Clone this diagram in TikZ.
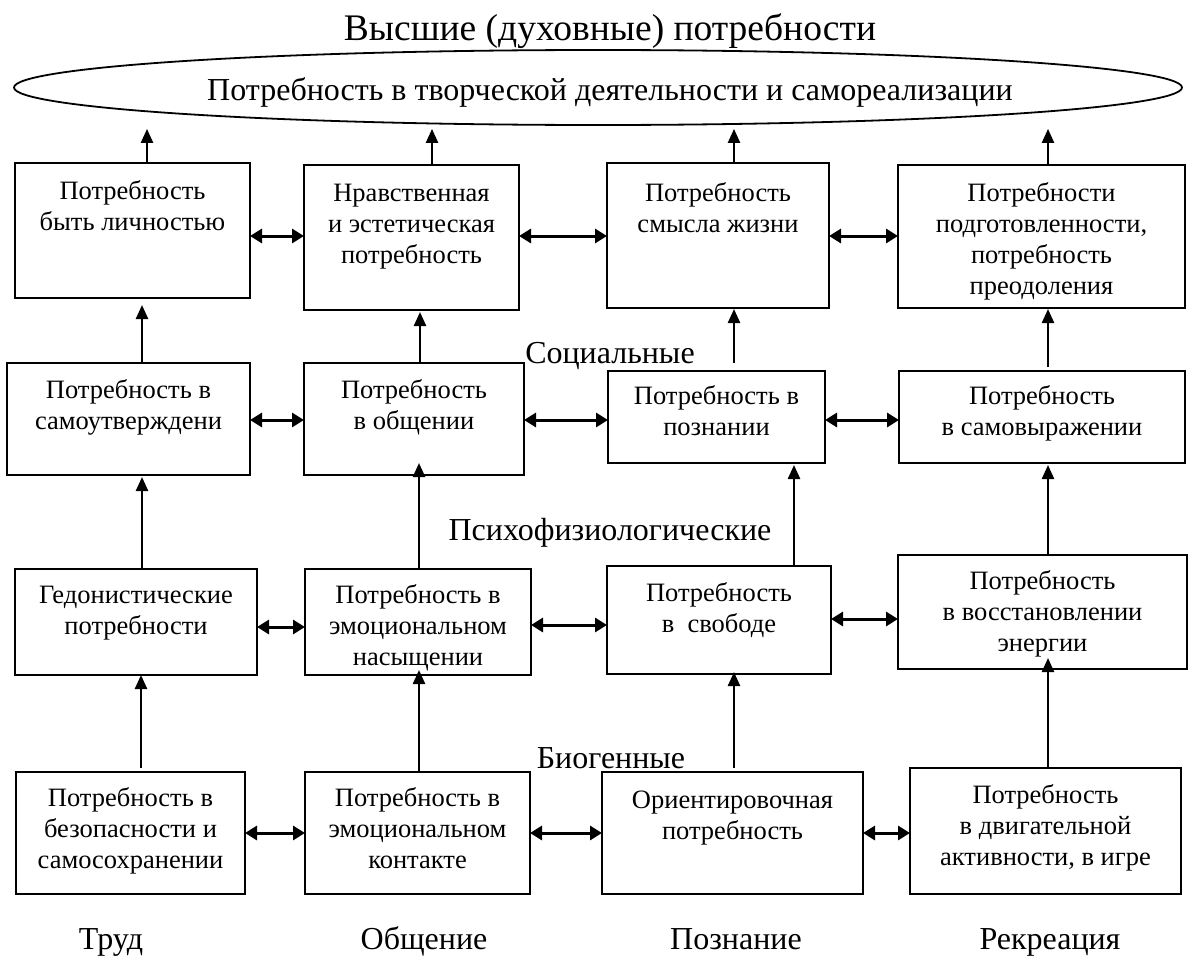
\documentclass[tikz,border=0pt]{standalone}
\usepackage{fontspec}
\setmainfont{Liberation Serif}
\usetikzlibrary{arrows.meta,shapes.geometric}
\newcommand{\bxt}[4]{\parbox[c][#2pt][t]{#1pt}{\centering\fontsize{26.5pt}{31pt}\selectfont\rule{0pt}{#3pt}#4}}
\begin{document}
\begin{tikzpicture}[x=1pt,y=-1pt,
  box/.style={draw,line width=1.3pt,inner sep=0pt,outer sep=0pt},
  varr/.style={line width=2.4pt,-{Triangle[length=14pt,width=12pt]}},
  harr/.style={line width=3pt,{Triangle[length=12pt,width=14pt]}-{Triangle[length=12pt,width=14pt]}},
  lbl/.style={inner sep=0pt,anchor=base,font=\fontsize{32pt}{38pt}\selectfont},
  ttl/.style={lbl,font=\fontsize{37.5pt}{44pt}\selectfont}]
\useasboundingbox (0,0) rectangle (1189,961);
% title and ellipse
\node[ttl] (title) at (610,40) {Высшие (духовные) потребности};
\node[draw,ellipse,line width=1.8pt,minimum width=1168pt,minimum height=75pt,inner sep=0pt] (ell) at (598,87.5) {};
\node[lbl] (elltext) at (610,100) {Потребность в творческой деятельности и самореализации};
% row A
\node[box] (a1) at (132.5,230.5) {\bxt{235}{135}{36}{Потребность\\быть личностью}};
\node[box] (a2) at (411.5,237.5) {\bxt{215}{145}{36}{Нравственная\\и эстетическая\\потребность}};
\node[box] (a3) at (718,235.5) {\bxt{222}{145}{38}{Потребность\\смысла жизни}};
\node[box] (a4) at (1041.5,236.5) {\bxt{287}{143}{36}{Потребности\\подготовленности,\\потребность\\преодоления}};
% row B
\node[box] (b1) at (128.5,419) {\bxt{243}{112}{35}{Потребность в\\самоутверждени}};
\node[box] (b2) at (414,419) {\bxt{220}{112}{35}{Потребность\\в общении}};
\node[box] (b3) at (716.5,417) {\bxt{217}{92}{33}{Потребность в\\познании}};
\node[box] (b4) at (1042,417) {\bxt{286}{92}{33}{Потребность\\в самовыражении}};
% row C
\node[box] (c1) at (136,622) {\bxt{242}{106}{34}{Гедонистические\\потребности}};
\node[box] (c2) at (418,622) {\bxt{226}{106}{34}{Потребность в\\эмоциональном\\насыщении}};
\node[box] (c3) at (719,620) {\bxt{224}{108}{35}{Потребность\\в\ \ свободе}};
\node[box] (c4) at (1042.5,612) {\bxt{289}{114}{34}{Потребность\\в восстановлении\\энергии}};
% row D
\node[box] (d1) at (130.5,833) {\bxt{229}{122}{34}{Потребность в\\безопасности и\\самосохранении}};
\node[box] (d2) at (417.5,833) {\bxt{225}{122}{34}{Потребность в\\эмоциональном\\контакте}};
\node[box] (d3) at (732.5,833) {\bxt{261}{122}{36}{Ориентировочная\\потребность}};
\node[box] (d4) at (1045.5,831) {\bxt{271}{126}{35}{Потребность\\в двигательной\\активности, в игре}};
% level labels
\node[lbl] (soc) at (610,363) {Социальные};
\node[lbl] (psy) at (610,540) {Психофизиологические};
\node[lbl] (bio) at (611,768) {Биогенные};
% bottom labels
\node[lbl] (trud) at (111,949) {Труд};
\node[lbl] (obsch) at (424,949) {Общение};
\node[lbl] (pozn) at (736,949) {Познание};
\node[lbl] (rekr) at (1050,949) {Рекреация};
% arrows to ellipse
\draw[varr,shorten >=3pt] (a1.north -| 147,0) -- (ell.south -| 147,0);
\draw[varr,shorten >=3pt] (a2.north -| 432,0) -- (ell.south -| 432,0);
\draw[varr,shorten >=3pt] (a3.north -| 734,0) -- (ell.south -| 734,0);
\draw[varr,shorten >=3pt] (a4.north -| 1048,0) -- (ell.south -| 1048,0);
% B -> A
\draw[varr,shorten >=7pt] (b1.north -| 142,0) -- (a1.south -| 142,0);
\draw[varr,shorten >=2pt] (b2.north -| 420,0) -- (a2.south -| 420,0);
\draw[varr,shorten <=8pt,shorten >=1pt] (b3.north -| 734,0) -- (a3.south -| 734,0);
\draw[varr,shorten <=4pt,shorten >=1pt] (b4.north -| 1048,0) -- (a4.south -| 1048,0);
% C -> B
\draw[varr,shorten >=2pt] (c1.north -| 142,0) -- (b1.south -| 142,0);
\draw[varr,shorten >=-12pt] (c2.north -| 419,0) -- (b2.south -| 419,0);
\draw[varr,shorten >=2pt] (c3.north -| 794,0) -- (b3.south -| 794,0);
\draw[varr,shorten >=2pt] (c4.north -| 1048,0) -- (b4.south -| 1048,0);
% D -> C
\draw[varr,shorten <=4pt] (d1.north -| 141,0) -- (c1.south -| 141,0);
\draw[varr,shorten >=-5pt] (d2.north -| 419,0) -- (c2.south -| 419,0);
\draw[varr,shorten <=4pt,shorten >=-2pt] (d3.north -| 734,0) -- (c3.south -| 734,0);
\draw[varr,shorten >=-11pt] (d4.north -| 1048,0) -- (c4.south -| 1048,0);
% horizontal double arrows
\draw[harr] (a1.east |- 0,236) -- (a2.west |- 0,236);
\draw[harr] (a2.east |- 0,236) -- (a3.west |- 0,236);
\draw[harr] (a3.east |- 0,236) -- (a4.west |- 0,236);
\draw[harr] (b1.east |- 0,420) -- (b2.west |- 0,420);
\draw[harr] (b2.east |- 0,420) -- (b3.west |- 0,420);
\draw[harr] (b3.east |- 0,420) -- (b4.west |- 0,420);
\draw[harr] (c1.east |- 0,627) -- (c2.west |- 0,627);
\draw[harr] (c2.east |- 0,625) -- (c3.west |- 0,625);
\draw[harr] (c3.east |- 0,619) -- (c4.west |- 0,619);
\draw[harr] (d1.east |- 0,833) -- (d2.west |- 0,833);
\draw[harr] (d2.east |- 0,833) -- (d3.west |- 0,833);
\draw[harr] (d3.east |- 0,833) -- (d4.west |- 0,833);
\end{tikzpicture}
\end{document}
